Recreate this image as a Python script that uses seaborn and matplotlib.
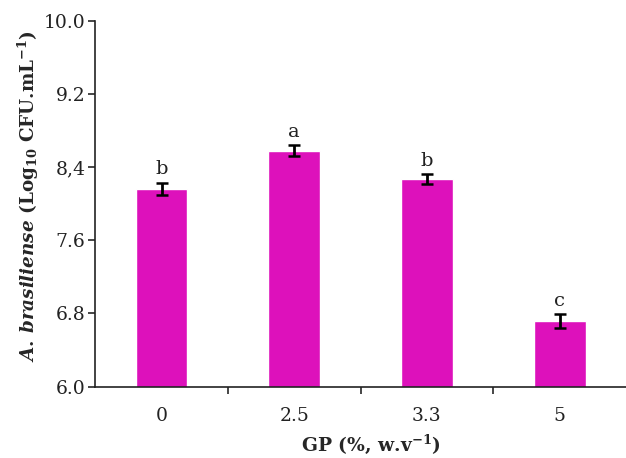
import numpy as np
import pandas as pd
import seaborn as sns
from matplotlib import pyplot as plt

# values
gp_levels = ["0", "2.5", "3.3", "5"]
counts = [8.16, 8.58, 8.27, 6.72]
errors = [0.07, 0.06, 0.055, 0.075]
letters = ["b", "a", "b", "c"]
y_ticks = [6.0, 6.8, 7.6, 8.4, 9.2, 10.0]
y_tick_labels = ["6.0", "6.8", "7.6", "8,4", "9.2", "10.0"]

sns.set_style("ticks")
plt.rcParams['font.family'] = ['DejaVu Serif']
plt.rcParams['mathtext.fontset'] = 'custom'
plt.rcParams['mathtext.rm'] = 'DejaVu Serif:bold'
plt.rcParams['mathtext.it'] = 'DejaVu Serif:italic:bold'
plt.rcParams['mathtext.bf'] = 'DejaVu Serif:bold'

df = pd.DataFrame({"gp": gp_levels, "count": counts})

fig = plt.figure(figsize=(6.26, 4.58), dpi=100)
ax = fig.add_axes([0.152, 0.156, 0.848, 0.799])

sns.barplot(data=df, x="gp", y="count", color="#DD11BB", saturation=1,
            width=0.39, ax=ax)
ax.errorbar(np.arange(len(counts)), counts, yerr=errors, fmt="none",
            ecolor="black", elinewidth=2, capsize=4.5, capthick=1.8)

for i, (v, e, l) in enumerate(zip(counts, errors, letters)):
  ax.annotate(l, (i, v + e), xytext=(0, 3), textcoords="offset points",
              ha="center", va="bottom", fontsize=14, color="#222222")

ax.set_ylim(6.0, 10.0)
ax.set_xlim(-0.5, 3.5)
ax.set_yticks(y_ticks)
ax.set_yticklabels(y_tick_labels, fontsize=13.5, color="#222222")
ax.set_xticks(range(len(gp_levels)))
ax.set_xticklabels(gp_levels, fontsize=13.5, color="#222222")
ax.tick_params(axis="x", length=0, pad=15)
ax.set_xticks([0.5, 1.5, 2.5], minor=True)
ax.tick_params(axis="x", which="minor", length=5, width=1.2, direction="out")
ax.tick_params(axis="y", length=5, width=1.2, direction="out", pad=2)

for s in ["top", "right"]:
  ax.spines[s].set_visible(False)
for s in ["left", "bottom"]:
  ax.spines[s].set_linewidth(1.2)
  ax.spines[s].set_color("#222222")

ax.set_xlabel(r"GP (%, w.v$^{-1}$)", fontsize=13.5, fontweight="bold")
ax.xaxis.set_label_coords(0.52, -0.125)
ax.set_ylabel(r"$\mathit{A.\,brasiliense}$ (Log$_{10}$ CFU.mL$^{-1}$)",
              fontsize=13.2, fontweight="bold")
ax.yaxis.set_label_coords(-0.102, 0.52)

fig.savefig("out.png", dpi=100)
